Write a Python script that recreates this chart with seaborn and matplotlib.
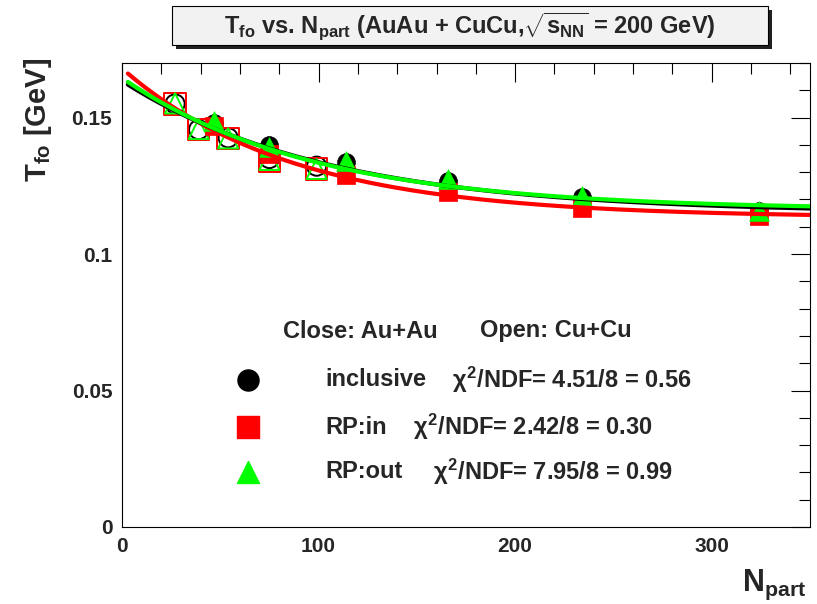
import numpy as np
import pandas as pd
import matplotlib
matplotlib.use("Agg")
import matplotlib.pyplot as plt
import seaborn as sns
from matplotlib.patches import Rectangle
from matplotlib.ticker import MultipleLocator

# Au+Au centrality bins (closed symbols)
npart_auau = [47, 75, 114, 166, 234, 324]
t_auau_incl = [0.1480, 0.1400, 0.1336, 0.1268, 0.1210, 0.1156]
t_auau_in = [0.1470, 0.1365, 0.1291, 0.1226, 0.1168, 0.1141]
t_auau_out = [0.1489, 0.1393, 0.1342, 0.1275, 0.1214, 0.1159]

# Cu+Cu centrality bins (open symbols)
npart_cucu = [27, 39, 54, 75, 99]
t_cucu_incl = [0.1550, 0.1456, 0.1426, 0.1350, 0.1322]
t_cucu_in = [0.1550, 0.1456, 0.1424, 0.1340, 0.1312]
t_cucu_out = [0.1552, 0.1458, 0.1424, 0.1345, 0.1312]

series_names = ["inclusive", "RP:in", "RP:out"]
chi2_labels = ["4.51/8 = 0.56", "2.42/8 = 0.30", "7.95/8 = 0.99"]

x_ticks = [0, 100, 200, 300]
y_ticks = [0, 0.05, 0.1, 0.15]
y_tick_labels = ["0", "0.05", "0.1", "0.15"]

sns.set_style("white")
plt.rcParams["font.family"] = ["Liberation Sans", "DejaVu Sans"]
plt.rcParams["font.weight"] = "bold"
plt.rcParams["mathtext.fontset"] = "custom"
plt.rcParams["mathtext.rm"] = "Liberation Sans:bold"
plt.rcParams["mathtext.it"] = "Liberation Sans:bold"
plt.rcParams["mathtext.bf"] = "Liberation Sans:bold"
plt.rcParams["mathtext.sf"] = "Liberation Sans:bold"

W, H = 817, 604
fig = plt.figure(figsize=(W / 100, H / 100), dpi=100, facecolor="white")


def fx(px):
    return px / W


def fy(py):
    return 1 - py / H


ax = fig.add_axes([fx(122), fy(527), fx(810) - fx(122), fy(63) - fy(527)])
ax.set_facecolor("white")

colors = {"inclusive": "#000000", "RP:in": "#ff0000", "RP:out": "#00ff00"}
markers = {"inclusive": "o", "RP:in": "s", "RP:out": "^"}
sizes_closed = {"inclusive": 165, "RP:in": 185, "RP:out": 200}
sizes_open = {"inclusive": 190, "RP:in": 240, "RP:out": 210}

auau = {"inclusive": t_auau_incl, "RP:in": t_auau_in, "RP:out": t_auau_out}
cucu = {"inclusive": t_cucu_incl, "RP:in": t_cucu_in, "RP:out": t_cucu_out}

# open symbols: Cu+Cu
for name in series_names:
    df = pd.DataFrame({"Npart": npart_cucu, "T": cucu[name]})
    sns.scatterplot(data=df, x="Npart", y="T", ax=ax, marker=markers[name],
                    s=sizes_open[name], color=colors[name], facecolor="none",
                    edgecolor=colors[name], linewidth=1.4, zorder=3)

# closed symbols: Au+Au
for name in series_names:
    df = pd.DataFrame({"Npart": npart_auau, "T": auau[name]})
    sns.scatterplot(data=df, x="Npart", y="T", ax=ax, marker=markers[name],
                    s=sizes_closed[name], color=colors[name],
                    edgecolor=colors[name], linewidth=0.5, zorder=4)


def fit_exp(x, y):
    """Least-squares fit of T = a + b*exp(-N/c), scanning c."""
    x = np.asarray(x, float)
    y = np.asarray(y, float)
    best = None
    for c in np.linspace(20, 400, 1521):
        A = np.column_stack([np.ones_like(x), np.exp(-x / c)])
        coef, *_ = np.linalg.lstsq(A, y, rcond=None)
        r = np.sum((A @ coef - y) ** 2)
        if best is None or r < best[0]:
            best = (r, coef[0], coef[1], c)
    return best[1:]


xs = np.linspace(3, 350, 400)
for name in ["RP:in", "inclusive", "RP:out"]:
    x_all = npart_cucu + npart_auau
    y_all = cucu[name] + auau[name]
    a, b, c = fit_exp(x_all, y_all)
    sns.lineplot(x=xs, y=a + b * np.exp(-xs / c), ax=ax, color=colors[name],
                 linewidth=3.0, zorder=5)

ax.set_xlim(0, 350)
ax.set_ylim(0, 0.17)
ax.set_xticks(x_ticks)
ax.set_xticklabels([str(v) for v in x_ticks])
ax.set_yticks(y_ticks)
ax.set_yticklabels(y_tick_labels)
ax.xaxis.set_minor_locator(MultipleLocator(20))
ax.yaxis.set_minor_locator(MultipleLocator(0.01))
ax.tick_params(which="both", direction="in", top=True, right=True,
               width=0.8, color="black", labelsize=15, pad=7)
ax.tick_params(which="major", length=14)
ax.tick_params(which="minor", length=8)
for lab in ax.get_xticklabels() + ax.get_yticklabels():
    lab.set_fontweight("bold")
for sp in ax.spines.values():
    sp.set_visible(True)
    sp.set_color("black")
    sp.set_linewidth(0.8)
ax.set_xlabel("")
ax.set_ylabel("")

# axis titles
fig.text(fx(38), fy(58), r"T$_{fo}$ [GeV]", rotation=90, ha="center", va="top",
         fontsize=21, fontweight="bold")
fig.text(fx(806), fy(591), r"N$_{part}$", ha="right", va="baseline",
         fontsize=22, fontweight="bold")

# title box with shadow
fig.add_artist(Rectangle((fx(176), fy(49)), fx(768) - fx(172), fy(6) - fy(45),
                         transform=fig.transFigure, facecolor="#202020",
                         edgecolor="none", zorder=1))
fig.add_artist(Rectangle((fx(172), fy(45)), fx(768) - fx(172), fy(6) - fy(45),
                         transform=fig.transFigure, facecolor="#f2f2f2",
                         edgecolor="black", linewidth=0.8, zorder=2))
fig.text(fx(470), fy(26), r"T$_{fo}$ vs. N$_{part}$ (AuAu + CuCu,$\sqrt{s_{NN}}$ = 200 GeV)",
         ha="center", va="center", fontsize=17, fontweight="bold", zorder=3)

# legend block
fig.text(fx(283), fy(331), "Close: Au+Au", ha="left", va="center",
         fontsize=17, fontweight="bold")
fig.text(fx(480), fy(331), "Open: Cu+Cu", ha="left", va="center",
         fontsize=17, fontweight="bold")
row_y = [380, 427, 472]
chi_x = [452, 413, 433]
leg_sizes = {"inclusive": 230, "RP:in": 240, "RP:out": 250}
for name, ry, cx, lab in zip(series_names, row_y, chi_x, chi2_labels):
    ax.scatter([fx(248)], [fy(ry)], transform=fig.transFigure, marker=markers[name],
               s=leg_sizes[name], color=colors[name], clip_on=False, zorder=6)
    fig.text(fx(325), fy(ry), name, ha="left", va="center", fontsize=17,
             fontweight="bold")
    fig.text(fx(cx), fy(ry), r"$\chi^{2}$/NDF= " + lab, ha="left", va="center",
             fontsize=17, fontweight="bold")

fig.savefig("out.png", dpi=100, facecolor="white")
